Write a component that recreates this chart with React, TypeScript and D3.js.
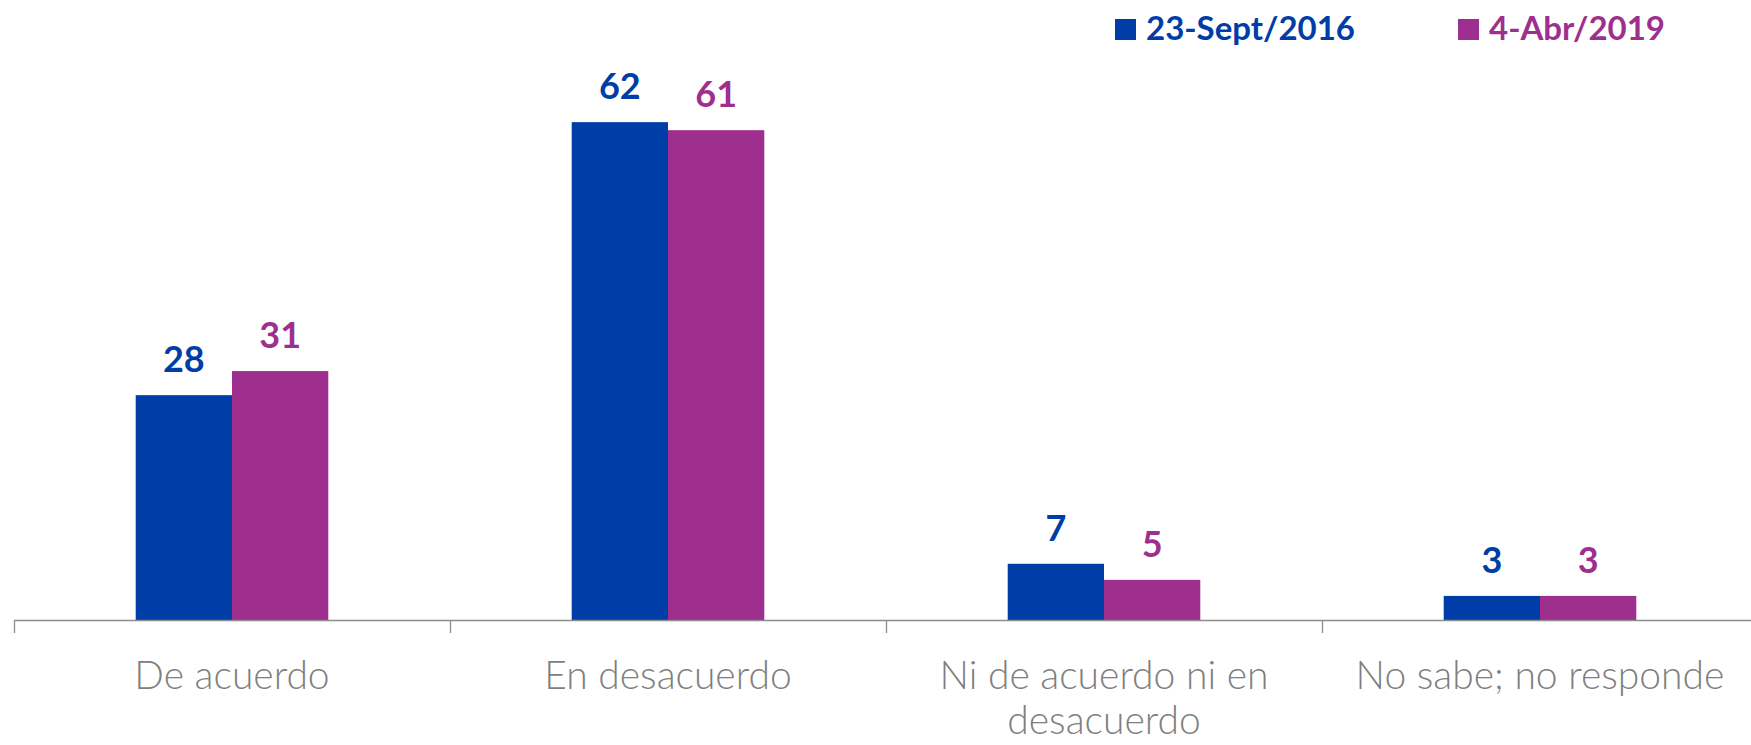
import React, { useEffect, useRef } from 'react';
import * as d3 from 'd3';

const width = 1751;
const height = 745;

// data
const categories = ['De acuerdo', 'En desacuerdo', 'Ni de acuerdo ni en desacuerdo', 'No sabe; no responde'];
const categoryLines = [['De acuerdo'], ['En desacuerdo'], ['Ni de acuerdo ni en', 'desacuerdo'], ['No sabe; no responde']];
const seriesNames = ['23-Sept/2016', '4-Abr/2019'];
const sept2016 = [28, 62, 7, 3];
const abr2019 = [31, 61, 5, 3];
const seriesColors = ['#003DA6', '#9E2F8E'];

export default function App() {
	const node = useRef<SVGSVGElement | null>(null);

	useEffect(() => {
		const svg = d3.select(node.current);
		svg.selectAll('*').remove();

		const values = [sept2016, abr2019];
		const rows = categories.map((c, i) => ({ c, i, vals: values.map(v => v[i]) }));

		const x0 = d3
			.scaleBand<string>()
			.domain(categories)
			.range([14, 14 + 436 * 4])
			.padding(0);
		const x1 = d3
			.scaleBand<string>()
			.domain(seriesNames)
			.range([0, x0.bandwidth()])
			.paddingInner(0)
			.paddingOuter(1.264);
		const y = d3
			.scaleLinear()
			.domain([0, 70])
			.range([620, 620 - 70 * 8.03]);

		const groups = svg
			.selectAll('g.cat')
			.data(rows)
			.enter()
			.append('g')
			.attr('class', 'cat')
			.attr('transform', d => `translate(${x0(d.c)},0)`);

		groups
			.selectAll('rect')
			.data(d => d.vals.map((v, s) => ({ v, s })))
			.enter()
			.append('rect')
			.attr('x', d => x1(seriesNames[d.s]) as number)
			.attr('width', x1.bandwidth())
			.attr('y', d => y(d.v))
			.attr('height', d => y(0) - y(d.v))
			.attr('fill', d => seriesColors[d.s]);

		groups
			.selectAll('text.val')
			.data(d => d.vals.map((v, s) => ({ v, s })))
			.enter()
			.append('text')
			.attr('class', 'val')
			.attr('x', d => (x1(seriesNames[d.s]) as number) + x1.bandwidth() / 2)
			.attr('y', d => y(d.v) - 23)
			.attr('text-anchor', 'middle')
			.style('font', 'bold 36px Lato')
			.attr('fill', d => seriesColors[d.s])
			.text(d => d.v);

		// x axis
		const axis = svg.append('g').attr('stroke', '#8C8C8C').attr('stroke-width', 1.3);
		axis.append('line')
			.attr('x1', 14)
			.attr('x2', width)
			.attr('y1', 620.5)
			.attr('y2', 620.5);
		axis.selectAll('line.tick')
			.data(categories)
			.enter()
			.append('line')
			.attr('class', 'tick')
			.attr('x1', d => (x0(d) as number) + 0.5)
			.attr('x2', d => (x0(d) as number) + 0.5)
			.attr('y1', 620)
			.attr('y2', 633);

		// category labels
		svg.selectAll('text.cat')
			.data(rows)
			.enter()
			.append('text')
			.attr('class', 'cat')
			.attr('text-anchor', 'middle')
			.attr('fill', '#7F7F7F')
			.style('font', '300 39px Lato')
			.each(function(d) {
				const t = d3.select(this);
				categoryLines[d.i].forEach((line, k) => {
					t.append('tspan')
						.attr('x', (x0(d.c) as number) + x0.bandwidth() / 2)
						.attr('y', 689 + k * 45)
						.text(line);
				});
			});

		// legend
		const legendX = [1115, 1458];
		const legend = svg
			.selectAll('g.legend')
			.data(seriesNames)
			.enter()
			.append('g')
			.attr('class', 'legend')
			.attr('transform', (d, i) => `translate(${legendX[i]},19)`);
		legend
			.append('rect')
			.attr('width', 21)
			.attr('height', 21)
			.attr('fill', (d, i) => seriesColors[i]);
		legend
			.append('text')
			.attr('x', 31)
			.attr('y', 20.5)
			.style('font', 'bold 33px Lato')
			.attr('fill', (d, i) => seriesColors[i])
			.text(d => d);
	}, []);

	return (
		<div style={{ position: 'fixed', left: 0, top: 0 }}>
			<svg ref={node} width={width} height={height} style={{ display: 'block', background: '#fff' }} />
		</div>
	);
}
